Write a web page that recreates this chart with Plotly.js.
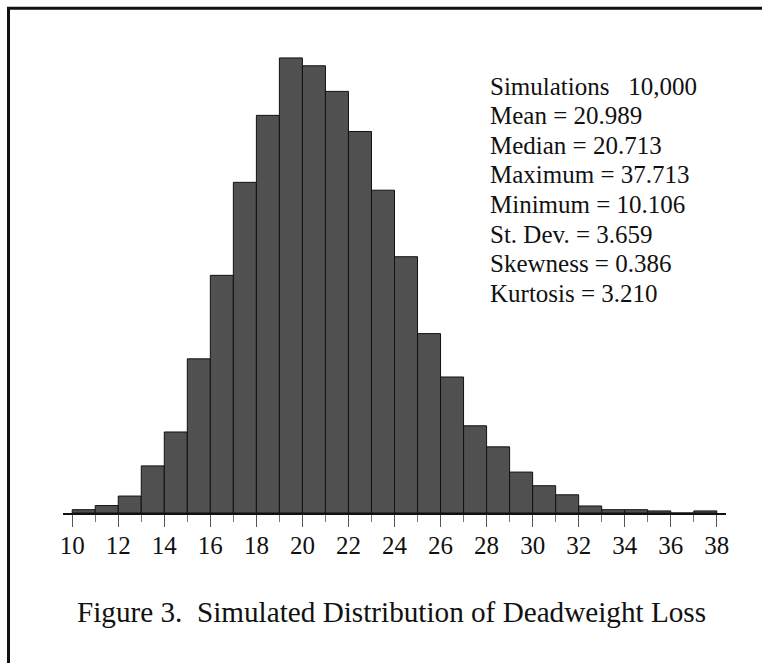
<!DOCTYPE html>
<html>
<head>
<meta charset="utf-8">
<script src="https://cdn.plot.ly/plotly-3.0.1.min.js"></script>
<style>
  html, body { margin: 0; padding: 0; background: #fff; }
  #chart { width: 762px; height: 663px; }
</style>
</head>
<body>
<div id="chart"></div>
<script>
// Histogram bins (left edges, width 1) and counts out of 10,000 simulations
const binStarts = [10, 11, 12, 13, 14, 15, 16, 17, 18, 19, 20, 21, 22, 23, 24,
                   25, 26, 27, 28, 29, 30, 31, 32, 33, 34, 35, 36, 37];
const binCounts = [8, 18, 41, 114, 196, 373, 575, 800, 962, 1101, 1082, 1020, 923, 781, 620,
                   434, 329, 211, 160, 99, 66, 44, 17, 8, 8, 5, 0, 5];
const binWidth = 1;

const tickValues = [10, 12, 14, 16, 18, 20, 22, 24, 26, 28, 30, 32, 34, 36, 38];
const tickLabels = ["10", "12", "14", "16", "18", "20", "22", "24", "26", "28", "30", "32", "34", "36", "38"];

const statsLines = [
  "Simulations\u00a0\u00a0\u00a010,000",
  "Mean = 20.989",
  "Median = 20.713",
  "Maximum = 37.713",
  "Minimum = 10.106",
  "St. Dev. = 3.659",
  "Skewness = 0.386",
  "Kurtosis = 3.210"
];
const figureTitle = "Figure 3.\u00a0\u00a0Simulated Distribution of Deadweight Loss";

const serif = "'Liberation Serif', 'DejaVu Serif', serif";

const trace = {
  type: "bar",
  x: binStarts,
  y: binCounts,
  width: binWidth,
  offset: 0,
  marker: {
    color: "#3a3a3a",
    line: { color: "#111", width: 1 },
    pattern: { shape: ".", fgcolor: "#8a8a8a", bgcolor: "#303030", size: 2, solidity: 0.35 }
  },
  hoverinfo: "skip"
};

// plot-area geometry used to place the stats lines (paper coords)
const plotTopPx = 17, plotHeightPx = 496;
function paperY(px) { return 1 - (px - plotTopPx) / plotHeightPx; }

const statsAnnotations = statsLines.map((t, i) => ({
  xref: "x", yref: "paper",
  x: 28.07, y: paperY(86 + i * 29.6),
  xanchor: "left", yanchor: "middle",
  align: "left",
  showarrow: false,
  text: t,
  font: { family: serif, size: 25, color: "#111" }
}));

const layout = {
  width: 762,
  height: 663,
  margin: { l: 63, r: 36, t: plotTopPx, b: 150 },
  paper_bgcolor: "#fff",
  plot_bgcolor: "#fff",
  showlegend: false,
  bargap: 0,
  font: { family: serif, color: "#111" },
  xaxis: {
    range: [9.6, 38.4],
    showgrid: false,
    zeroline: false,
    showline: true,
    linecolor: "#111",
    linewidth: 2,
    ticks: "outside",
    ticklen: 12,
    tickwidth: 1,
    tickcolor: "#555",
    tickmode: "array",
    tickvals: tickValues,
    ticktext: tickLabels,
    ticklabelstandoff: -3,
    tickfont: { family: serif, size: 25, color: "#111" },
    minor: { ticks: "outside", ticklen: 7, tickwidth: 1, tickcolor: "#777", dtick: 1, tick0: 10, showgrid: false },
    fixedrange: true
  },
  yaxis: {
    range: [0, 1200],
    visible: false,
    fixedrange: true
  },
  annotations: statsAnnotations.concat([
    {
      xref: "paper", yref: "paper",
      x: 0.4955, y: -0.2006,
      xanchor: "center", yanchor: "middle",
      showarrow: false,
      text: figureTitle,
      font: { family: serif, size: 29.2, color: "#111" }
    }
  ]),
  shapes: [
    { type: "line", xref: "paper", yref: "paper", x0: -0.0822, x1: -0.0822, y0: -0.35, y1: 1.0175,
      line: { color: "#111", width: 3 } },
    { type: "line", xref: "paper", yref: "paper", x0: -0.0845, x1: 1.1, y0: 1.0175, y1: 1.0175,
      line: { color: "#111", width: 3 } }
  ]
};

Plotly.newPlot("chart", [trace], layout, { staticPlot: true, displayModeBar: false });
</script>
</body>
</html>
